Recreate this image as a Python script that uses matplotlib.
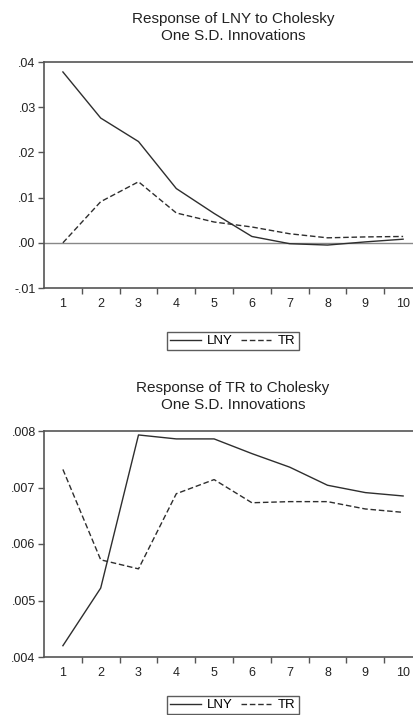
import matplotlib
matplotlib.use("Agg")
import matplotlib.pyplot as plt
from matplotlib.ticker import FixedLocator, FixedFormatter

periods = [1, 2, 3, 4, 5, 6, 7, 8, 9, 10]

# response of LNY
lny_lny = [0.0378, 0.0276, 0.0224, 0.0120, 0.0065, 0.0014, -0.0002, -0.0005, 0.0002, 0.0008]
lny_tr = [0.0000, 0.0091, 0.0135, 0.0066, 0.0046, 0.0035, 0.0020, 0.0011, 0.0013, 0.0014]

# response of TR
tr_lny = [0.00420, 0.00522, 0.00793, 0.00786, 0.00786, 0.00760, 0.00736, 0.00704, 0.00691, 0.00685]
tr_tr = [0.00732, 0.00572, 0.00556, 0.00689, 0.00714, 0.00673, 0.00675, 0.00675, 0.00662, 0.00656]

top_ticks = [-0.01, 0.00, 0.01, 0.02, 0.03, 0.04]
top_labels = ["-.01", ".00", ".01", ".02", ".03", ".04"]
bot_ticks = [0.004, 0.005, 0.006, 0.007, 0.008]
bot_labels = [".004", ".005", ".006", ".007", ".008"]

W, H = 414, 715
fig = plt.figure(figsize=(W / 100, H / 100), dpi=100)
plt.rcParams["font.family"] = ["Liberation Sans", "DejaVu Sans"]

line_col = "#2e2e2e"
spine_col = "#555555"


def panel(rect, a, b, ticks, labels, title, zero_line, legend_y):
  ax = fig.add_axes(rect)
  ax.plot(periods, a, color=line_col, lw=1.0, label="LNY")
  ax.plot(periods, b, color=line_col, lw=1.0, ls=(0, (4, 2)), label="TR")
  if zero_line:
    ax.axhline(0, color="#888888", lw=1.0, zorder=0)
  ax.set_xlim(0.5, 10.5)
  ax.set_ylim(ticks[0], ticks[-1])
  ax.yaxis.set_major_locator(FixedLocator(ticks))
  ax.yaxis.set_major_formatter(FixedFormatter(labels))
  ax.xaxis.set_major_locator(FixedLocator(periods))
  ax.xaxis.set_minor_locator(FixedLocator([p + 0.5 for p in periods[:-1]]))
  ax.tick_params(axis="x", which="major", length=0, labelsize=9, pad=7, colors="#222222")
  ax.tick_params(axis="x", which="minor", length=4, width=1, color=spine_col)
  ax.tick_params(axis="y", length=4, width=1, color=spine_col, labelsize=9, pad=2, labelcolor="#222222")
  for s in ax.spines.values():
    s.set_color(spine_col)
    s.set_linewidth(1.2)
  ax.set_title(title, fontsize=11, color="#222222", pad=16, linespacing=1.25)
  # legend box is centred under the plot
  leg = fig.legend(handles=ax.get_lines()[:2], loc="center",
                   bbox_to_anchor=(233 / W, legend_y), ncol=2, fontsize=9.5,
                   frameon=True, fancybox=False, handlelength=2.3,
                   handletextpad=0.5, columnspacing=0.6, borderpad=0.25,
                   edgecolor="#333333")
  leg.get_frame().set_linewidth(1.0)
  return ax


ax_w = 378 / W
ax_h = 226 / H
panel([44 / W, 1 - 288 / H, ax_w, ax_h], lny_lny, lny_tr, top_ticks, top_labels,
      "Response of LNY to Cholesky\nOne S.D. Innovations", True, 1 - 341 / H)
panel([44 / W, 1 - 657 / H, ax_w, ax_h], tr_lny, tr_tr, bot_ticks, bot_labels,
      "Response of TR to Cholesky\nOne S.D. Innovations", False, 1 - 705 / H)

fig.savefig("out.png", dpi=100)
